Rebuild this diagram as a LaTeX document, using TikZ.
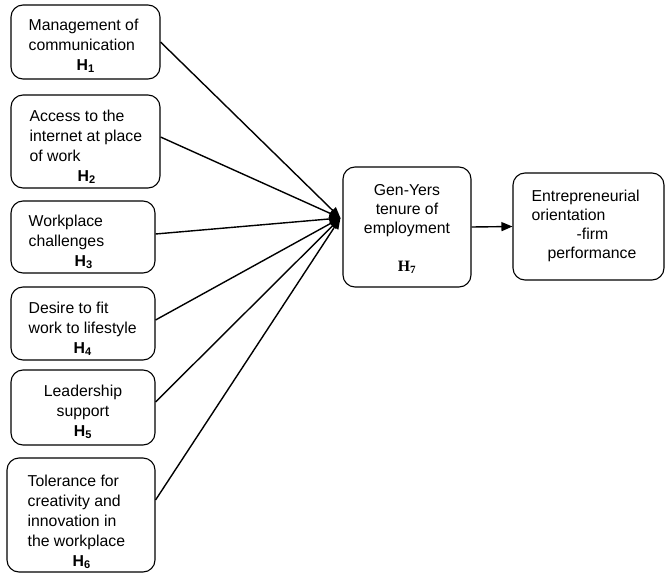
\documentclass[tikz,border=0pt]{standalone}
\usepackage{fontspec}
\setmainfont{Liberation Sans}
\newfontfamily\serifH{Liberation Serif}
\usetikzlibrary{arrows.meta,calc}
\tikzset{
  box/.style={draw, line width=1.1pt, rounded corners=12pt, inner sep=0pt},
  txt/.style={inner sep=0pt, font=\fontsize{15.8}{20}\selectfont},
  link/.style={line width=1.4pt, -{Triangle[length=11pt,width=9pt]}},
}
\begin{document}
\begin{tikzpicture}[x=1pt,y=-1pt]
\useasboundingbox (0,0) rectangle (665,573);
% boxes
\node[box, minimum width=149pt, minimum height=74pt] (b1) at (85.5,42) {};
\node[box, minimum width=149pt, minimum height=93pt] (b2) at (85.5,141.5) {};
\node[box, minimum width=144pt, minimum height=72pt] (b3) at (83,237) {};
\node[box, minimum width=144pt, minimum height=73pt] (b4) at (83,323.5) {};
\node[box, minimum width=144pt, minimum height=75pt] (b5) at (83,407.5) {};
\node[box, minimum width=148pt, minimum height=114pt] (b6) at (81,515) {};
\node[box, minimum width=128pt, minimum height=120pt] (bc) at (407,227) {};
\node[box, minimum width=151pt, minimum height=107pt] (br) at (588.5,226.5) {};
% texts
\node[txt, align=left, anchor=north west] (t1) at ([xshift=18pt,yshift=-14pt]b1.north west)
  {Management of\\communication\\\hspace*{48pt}\textbf{H\textsubscript{1}}};
\node[txt, align=left, anchor=north west] (t2) at ([xshift=19pt,yshift=-15pt]b2.north west)
  {Access to the\\internet at place\\of work\\\hspace*{48pt}\textbf{H\textsubscript{2}}};
\node[txt, align=left, anchor=north west] (t3) at ([xshift=18pt,yshift=-14pt]b3.north west)
  {Workplace\\challenges\\\hspace*{46pt}\textbf{H\textsubscript{3}}};
\node[txt, align=left, anchor=north west] (t4) at ([xshift=18pt,yshift=-15pt]b4.north west)
  {Desire to fit\\work to lifestyle\\\hspace*{45pt}\textbf{H\textsubscript{4}}};
\node[txt, align=center, anchor=north] (t5) at ([yshift=-15pt]b5.north)
  {Leadership\\support\\\textbf{H\textsubscript{5}}};
\node[txt, align=left, anchor=north west] (t6) at ([xshift=21pt,yshift=-17pt]b6.north west)
  {Tolerance for\\creativity and\\innovation in\\the workplace\\\hspace*{45pt}\textbf{H\textsubscript{6}}};
\node[txt, align=center, anchor=north, font=\fontsize{15.8}{19}\selectfont] (tc) at ([yshift=-18pt]bc.north)
  {Gen-Yers\\tenure of\\employment\\[19pt]{\serifH\bfseries H\textsubscript{7}}};
\node[txt, align=left, anchor=north west, font=\fontsize{15.8}{19}\selectfont] (tr) at ([xshift=19pt,yshift=-17pt]br.north west)
  {Entrepreneurial\\orientation\\\hspace*{45pt}-firm\\\hspace*{16pt}performance};
% connectors
\coordinate (hub) at ([xshift=-2pt,yshift=9pt]bc.west);
\draw[link] (b1.east) -- (hub);
\draw[link] ([yshift=4.5pt]b2.east) -- (hub);
\draw[link] ([yshift=3pt]b3.east) -- (hub);
\draw[link] ([yshift=3.5pt]b4.east) -- (hub);
\draw[link] ([yshift=5.5pt]b5.east) -- (hub);
\draw[link] ([yshift=15pt]b6.east) -- (hub);
\draw[link] (bc.east) -- (br.west);
\end{tikzpicture}
\end{document}
